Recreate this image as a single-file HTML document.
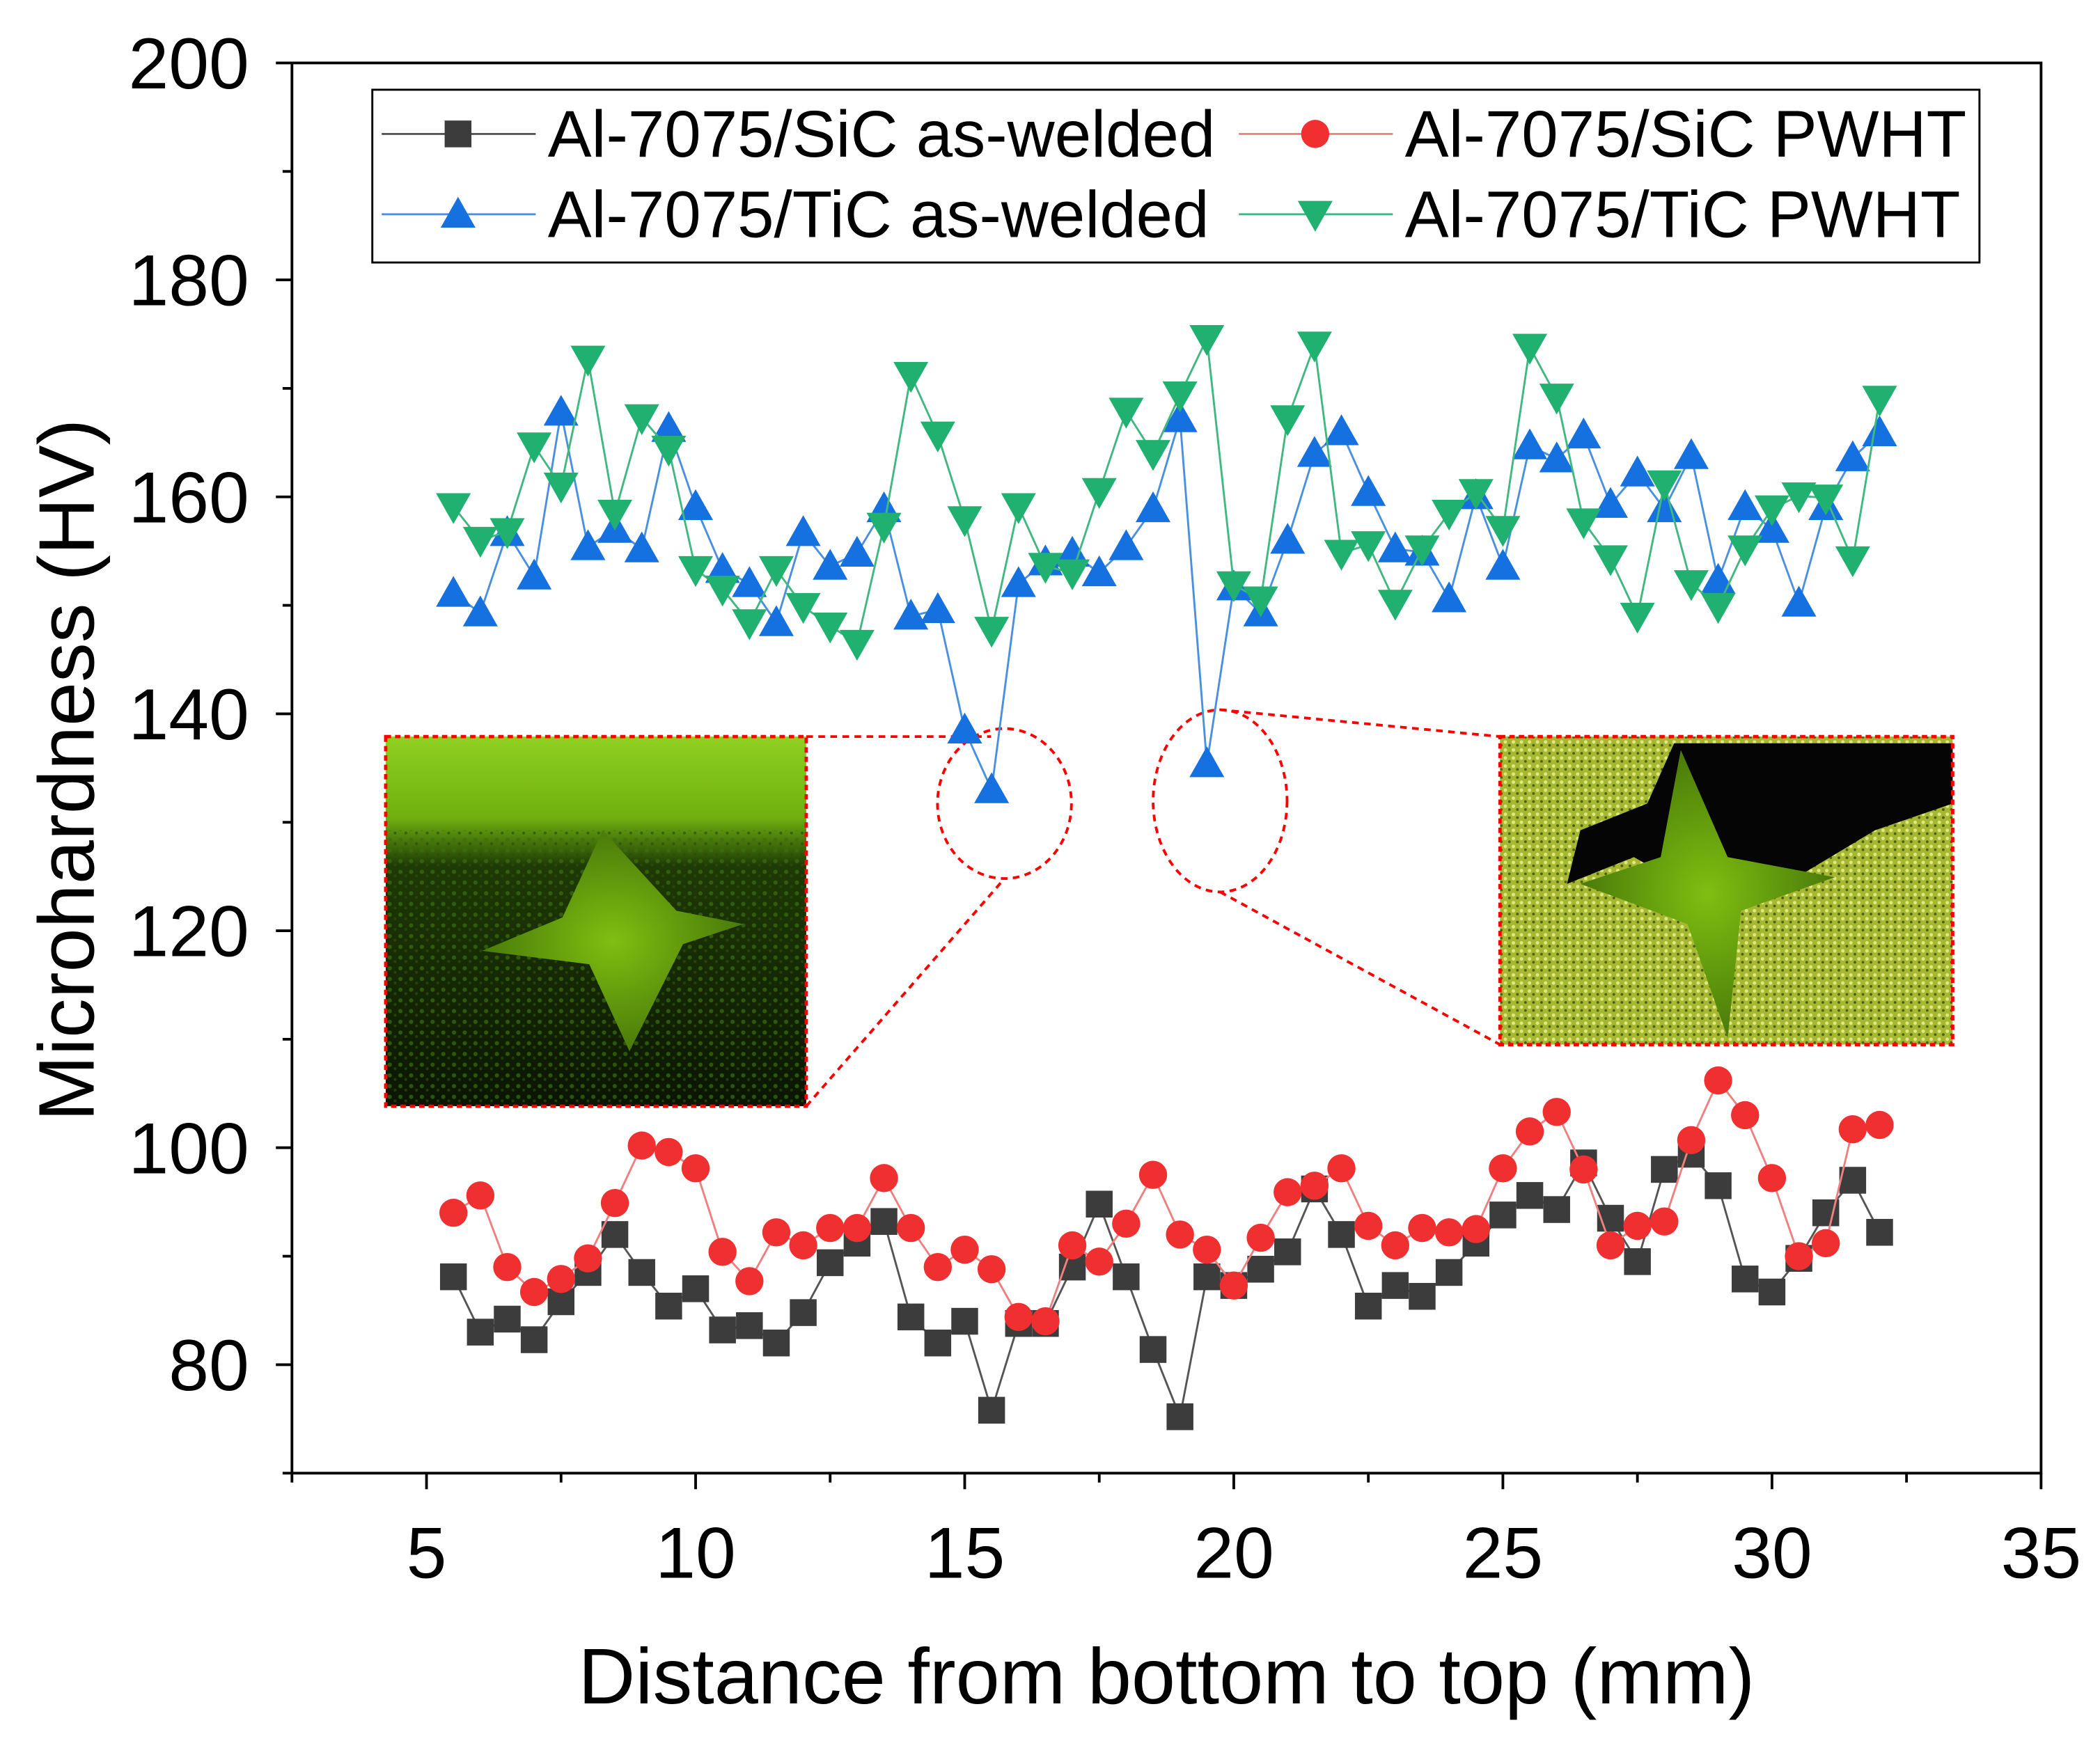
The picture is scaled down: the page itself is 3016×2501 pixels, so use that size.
<!DOCTYPE html>
<html><head><meta charset="utf-8"><style>
html,body{margin:0;padding:0;background:#fff}
svg{display:block}
text{font-family:"Liberation Sans",Arial,sans-serif;fill:#000}
</style></head><body>
<svg id="chart" width="3016" height="2501" viewBox="0 0 1568 1300" preserveAspectRatio="none" xmlns="http://www.w3.org/2000/svg">
<defs>
<radialGradient id="starg" cx="50%" cy="50%" r="50%"><stop offset="0" stop-color="#7fbf10"/><stop offset="1" stop-color="#4a7a0a"/></radialGradient>
<linearGradient id="lbg" x1="0" y1="0" x2="0" y2="1"><stop offset="0" stop-color="#8fd020"/><stop offset="0.22" stop-color="#6fb010"/><stop offset="0.35" stop-color="#1e3a05"/><stop offset="1" stop-color="#0a1502"/></linearGradient>
<pattern id="speck" width="6" height="6" patternUnits="userSpaceOnUse"><rect width="6" height="6" fill="#a6b832"/><circle cx="2" cy="2" r="1.3" fill="#e0e880"/><circle cx="5" cy="4.5" r="1" fill="#4d6010"/></pattern>
<pattern id="dspeck" width="8" height="8" patternUnits="userSpaceOnUse"><circle cx="3" cy="3" r="1.6" fill="#3a7010" opacity="0.7"/><circle cx="7" cy="6" r="1.1" fill="#2a5008" opacity="0.7"/></pattern>
</defs>
<g id="insets">
  <g>
    <rect x="288" y="550" width="314" height="276" fill="url(#lbg)"/>
    <rect x="288" y="620" width="314" height="206" fill="url(#dspeck)"/>
    <polygon points="450,620 505,680 555,690 510,705 470,785 440,720 360,710 420,685" fill="url(#starg)"/>
    <rect x="288" y="550" width="314" height="276" fill="none" stroke="#f00" stroke-width="2.5" stroke-dasharray="4,3"/>
  </g>
  <g>
    <rect x="1120" y="550" width="338" height="230" fill="url(#speck)"/>
    <path d="M1250,555 L1458,555 L1458,600 L1400,620 L1350,650 L1300,680 L1255,660 L1220,640 L1170,660 L1180,620 L1230,600 Z" fill="#050505"/>
    <polygon points="1255,560 1290,640 1370,655 1300,680 1290,775 1260,690 1180,660 1240,640" fill="url(#starg)"/>
    <rect x="1120" y="550" width="338" height="230" fill="none" stroke="#f00" stroke-width="2.5" stroke-dasharray="4,3"/>
  </g>
  <g fill="none" stroke="#f00" stroke-width="2" stroke-dasharray="5,4">
    <ellipse cx="750" cy="600" rx="50" ry="56"/>
    <ellipse cx="911" cy="598" rx="50" ry="68"/>
    <line x1="602" y1="550" x2="740" y2="550"/>
    <line x1="602" y1="826" x2="750" y2="656"/>
    <line x1="911" y1="530" x2="1120" y2="550"/>
    <line x1="911" y1="666" x2="1120" y2="780"/>
  </g>
</g>
<g id="axes"></g>
<g id="series"></g>
<g id="legend">
  <rect x="278" y="67" width="1200" height="129" fill="#fff" stroke="#000" stroke-width="1.5"/>
</g>
</svg>
<script>
const xValues=[5.5,6,6.5,7,7.5,8,8.5,9,9.5,10,10.5,11,11.5,12,12.5,13,13.5,14,14.5,15,15.5,16,16.5,17,17.5,18,18.5,19,19.5,20,20.5,21,21.5,22,22.5,23,23.5,24,24.5,25,25.5,26,26.5,27,27.5,28,28.5,29,29.5,30,30.5,31,31.5,32];
const sicAsWelded=[88.1,83,84.2,82.3,85.8,88.5,92,88.5,85.4,87,83.2,83.6,82,84.8,89.4,91.2,93.2,84.4,82,84,75.8,83.8,83.8,89,94.8,88.1,81.4,75.2,88.1,87.3,88.8,90.4,96.2,92,85.4,87.3,86.3,88.5,91.2,93.8,95.6,94.3,98.6,93.5,89.5,98,99.4,96.5,87.9,86.7,89.8,94,97,92.2];
const sicPWHT=[94,95.6,89,86.7,87.9,89.8,94.9,100.2,99.6,98.1,90.4,87.7,92.2,91,92.6,92.6,97.2,92.6,89,90.6,88.8,84.4,84,91,89.5,93,97.5,92,90.6,87.3,91.7,95.9,96.5,98.1,92.8,91,92.6,92.2,92.5,98.1,101.5,103.3,98,91,92.8,93.2,100.7,106.2,103,97.2,90,91.2,101.7,102.1];
const ticAsWelded=[151.1,149.3,156.7,152.7,167.8,155.4,157,155.2,166.3,159.1,153.3,152,148.4,156.7,153.6,154.8,158.9,149,149.6,138.5,133,152,154,154.8,153,155.4,158.9,167.2,135.4,151.7,149.3,156,164,166,160.4,155.2,154.9,150.6,160.1,153.6,164.7,163.5,165.7,159.3,162.2,158.9,163.8,152.3,159.1,157,150.2,159.1,163.6,165.9];
const ticPWHT=[159.1,156,156.8,164.7,161,172.7,158.5,167.3,164.4,153.3,151.5,148.4,153.3,149.9,148.1,146.5,157.3,171.2,165.7,157.9,147.7,159.1,153.6,153,160.5,167.9,164,169.4,174.6,151.9,150.5,167.2,174,154.8,155.6,150.2,155.2,158.5,160.4,157,173.8,169.2,157.7,154.3,149,161.2,152,149.9,155.2,158.9,160.1,159.9,154.2,169];
const xTicks=[5,10,15,20,25,30,35];
const yTicks=[80,100,120,140,160,180,200];
const seriesNames=["Al-7075/SiC as-welded","Al-7075/SiC PWHT","Al-7075/TiC as-welded","Al-7075/TiC PWHT"];

const NS="http://www.w3.org/2000/svg";
const L=218,R=1524,T=47,B=1100;
const xs=v=>L+(v-2.5)/(35-2.5)*(R-L);
const ys=v=>B-(v-70)/(200-70)*(B-T);
function mk(tag,a,p){const e=document.createElementNS(NS,tag);for(const k in a)e.setAttribute(k,a[k]);p.appendChild(e);return e;}
const ax=document.getElementById('axes');
const frame=mk('rect',{x:L,y:T,width:R-L,height:B-T,fill:'none',stroke:'#000','stroke-width':2},ax);


for(let v=70;v<=200;v+=10){const major=yTicks.includes(v);mk('line',{x1:L,x2:L-(major?12:7),y1:ys(v),y2:ys(v),stroke:'#000','stroke-width':2},ax);}
yTicks.forEach(v=>{const t=mk('text',{x:L-32,y:ys(v)+19,'text-anchor':'end','font-size':54},ax);t.textContent=v;

});
for(let v=2.5;v<=35.01;v+=2.5){const major=xTicks.includes(v);mk('line',{x1:xs(v),x2:xs(v),y1:B,y2:B+(major?12:7),stroke:'#000','stroke-width':2},ax);}
xTicks.forEach(v=>{const t=mk('text',{x:xs(v),y:B+78,'text-anchor':'middle','font-size':54},ax);t.textContent=v;

});
const xt=mk('text',{x:871,y:1272,'text-anchor':'middle','font-size':59},ax);xt.textContent='Distance from bottom to top (mm)';


const yt=mk('text',{x:0,y:0,'text-anchor':'middle','font-size':59,transform:'translate(70,575) rotate(-90)'},ax);yt.textContent='Microhardness (HV)';



function marker(type,x,y,color,p){
  let e;
  if(type==='sq') e=mk('rect',{x:x-10,y:y-10,width:20,height:20,fill:color},p);
  else if(type==='ci') e=mk('circle',{cx:x,cy:y,r:10.5,fill:color},p);
  else if(type==='up') e=mk('polygon',{points:`${x},${y-13} ${x-13},${y+10} ${x+13},${y+10}`,fill:color},p);
  else e=mk('polygon',{points:`${x},${y+13} ${x-13},${y-10} ${x+13},${y-10}`,fill:color},p);
  return e;
}
const sg=document.getElementById('series');
const defs=[[sicAsWelded,'#3c3c3c','#555','sq','series-sic-as-welded'],[sicPWHT,'#f03030','#f08080','ci','series-sic-pwht'],[ticAsWelded,'#1570e0','#4a90e0','up','series-tic-as-welded'],[ticPWHT,'#20b070','#40b880','dn','series-tic-pwht']];
defs.forEach(([vals,col,lc,type,name])=>{
  const g=mk('g',{},sg);
  
  
  mk('polyline',{points:vals.map((v,i)=>xs(xValues[i])+','+ys(v)).join(' '),fill:'none',stroke:lc,'stroke-width':1.5},g);
  vals.forEach((v,i)=>{const m=marker(type,xs(xValues[i]),ys(v),col,g);
    
    });
});
const lg=document.getElementById('legend');
const pos=[[285,100],[925,100],[285,160],[925,160]];
defs.forEach((d,i)=>{const [x,y]=pos[i];
  const g=mk('g',{},lg);
  
  
  mk('line',{x1:x,x2:x+115,y1:y,y2:y,stroke:d[2],'stroke-width':1.5},g);
  marker(d[3],x+57,y,d[1],g);
  const t=mk('text',{x:x+124,y:y+17,'font-size':49},g);t.textContent=seriesNames[i];
});
</script>
</body></html>
